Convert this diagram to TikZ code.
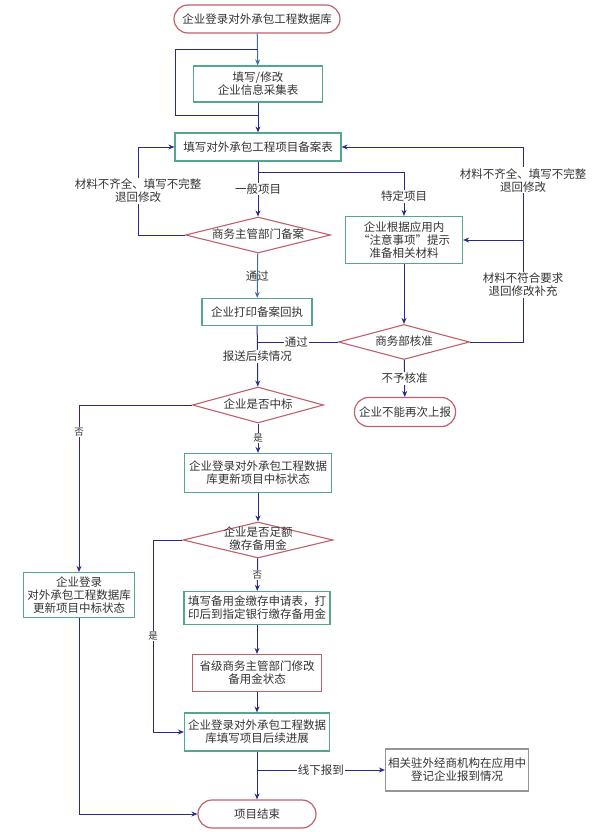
\documentclass[tikz,border=0pt]{standalone}
\usepackage{fontspec}
\newfontfamily\cjk{Noto Sans CJK SC}
\usepackage{tikz}
\usetikzlibrary{positioning,arrows.meta,calc,shapes.geometric}
\usepackage{xcolor}
\definecolor{boxgreen}{RGB}{84,166,142}
\definecolor{boxred}{RGB}{192,96,106}
\definecolor{boxgray}{RGB}{150,150,150}
\definecolor{linenavy}{RGB}{40,42,140}
\definecolor{linesteel}{RGB}{62,112,162}

\begin{document}
\begin{tikzpicture}[
            x=1pt, y=-1pt,
            every node/.style={font=\cjk\fontsize{11.5}{13}\selectfont, text=black!80},
            procg/.style={draw=boxgreen, line width=1.2pt, fill=white, align=center, inner sep=2pt},
            procr/.style={draw=boxred, line width=1.2pt, fill=white, align=center, inner sep=2pt},
            procgray/.style={draw=boxgray, line width=1.2pt, fill=white, align=center, inner sep=2pt},
            term/.style={draw=boxred, line width=1.2pt, fill=white, rounded corners=14pt, inner sep=2pt},
            decision/.style={diamond, aspect=4, draw=boxred, line width=1.1pt, fill=white, inner sep=0pt, text height=8pt, text depth=1pt},
            lbl/.style={fill=white, inner sep=1pt, align=center},
            lbls/.style={fill=white, inner sep=1pt, font=\cjk\fontsize{9.5}{11}\selectfont},
            link/.style={line width=1pt, linenavy},
            flow/.style={-{Stealth[length=6pt, width=5pt]}, line width=1pt, linenavy}
        ]
            \useasboundingbox (0,0) rectangle (594,832);

            % Filing
            \node[term, minimum width=166, minimum height=28] (start) at (257,19) {企业登录对外承包工程数据库};
            \node[procg, minimum width=129, minimum height=36] (info) at (258,84) {填写/修改\\企业信息采集表};
            \node[procg, minimum width=166, minimum height=28] (form) at (258,147) {填写对外承包工程项目备案表};
            \node[decision, minimum width=145, minimum height=36] (filing) at (258,235) {商务主管部门备案};
            \node[procg, minimum width=110, minimum height=27] (receipt) at (257,312) {企业打印备案回执};

            % Special projects
            \node[procg, minimum width=117, minimum height=47] (special) at (404,240) {企业根据应用内\\“注意事项”提示\\准备相关材料};
            \node[decision, minimum width=131, minimum height=35] (mofcom) at (404,342) {商务部核准};
            \node[term, minimum width=101, minimum height=29] (reject) at (405,412) {企业不能再次上报};

            % Bidding
            \node[decision, minimum width=131, minimum height=36] (bid) at (258,405) {企业是否中标};
            \node[procg, minimum width=147, minimum height=39] (won) at (258,473) {企业登录对外承包工程数据\\库更新项目中标状态};
            \node[decision, minimum width=150, minimum height=36] (deposit) at (258,540) {};
            \node[align=center] (deposittext) at (258,539) {企业是否足额\\缴存备用金};
            \node[procg, minimum width=146, minimum height=33] (bank) at (257,608) {填写备用金缴存申请表，打\\印后到指定银行缴存备用金};
            \node[procr, minimum width=129, minimum height=37] (prov) at (257,673) {省级商务主管部门修改\\备用金状态};
            \node[procg, minimum width=145, minimum height=38] (progress) at (257,732) {企业登录对外承包工程数据\\库填写项目后续进展};
            \node[procgray, minimum width=143, minimum height=42] (embassy) at (457,770) {相关驻外经商机构在应用中\\登记企业报到情况};
            \node[term, minimum width=118, minimum height=28] (end) at (257,814) {项目结束};
            \node[procg, minimum width=111, minimum height=45] (lost) at (79,595) {企业登录\\对外承包工程数据库\\更新项目中标状态};

            % Bends
            \coordinate (loopt) at (258,50);
            \coordinate (loopb) at (258,116);
            \coordinate (loopl) at (175,116);
            \coordinate (split) at (258,172);
            \coordinate (fbl) at (138,235);
            \coordinate (fbr) at (523,342);
            \coordinate (fbs) at (523,240);
            \coordinate (join) at (258,342);
            \coordinate (noc) at (79,405);
            \coordinate (yesc) at (153,540);
            \coordinate (offc) at (257,770);

            % Arrows of the filing step
            \draw[flow, linesteel] (start) -- (info);
            \draw[link] (loopb) -- (loopl) |- (loopt);
            \draw[flow] (info) -- (form);
            \draw[flow] (form) -- node[lbl]{一般项目} (filing);
            \draw[flow] (split) -| node[lbl, pos=0.78]{特定项目} (special);
            \draw[flow] (filing) -- (fbl) |- node[lbl, pos=0.25]{材料不齐全、填写不完整\\退回修改} (form);
            \draw[flow, linesteel] (filing) -- node[inner sep=1pt]{通过} (receipt);

            % Arrows of the special check
            \draw[flow] (special) -- (mofcom);
            \draw[flow] (mofcom) -- (fbr) |- node[lbl, pos=0.146]{材料不符合要求\\退回修改补充} node[lbl, pos=0.415]{材料不齐全、填写不完整\\退回修改} (form);
            \draw[flow] (fbs) -- (special);
            \draw[link] (mofcom) -- node[lbl, pos=0.52]{通过} (join);
            \draw[flow] (mofcom) -- node[lbl]{不予核准} (reject);

            % Arrows of the bidding step
            \draw[flow] (receipt) -- node[lbl]{报送后续情况} (bid);
            \draw[flow] (bid) -- (noc) -- node[lbls, pos=0.16]{否} (lost);
            \draw[flow] (bid) -- node[lbls]{是} (won);
            \draw[flow] (won) -- (deposit);
            \draw[flow] (deposit) -- node[lbls]{否} (bank);
            \draw[flow] (deposit) -- (yesc) |- node[lbls, pos=0.25]{是} (progress);
            \draw[flow] (bank) -- (prov);
            \draw[flow] (prov) -- (progress);
            \draw[flow] (progress) -- (end);
            \draw[flow] (offc) -- node[lbl]{线下报到} (embassy);
            \draw[flow] (lost) |- (end);

        \end{tikzpicture}
\end{document}
